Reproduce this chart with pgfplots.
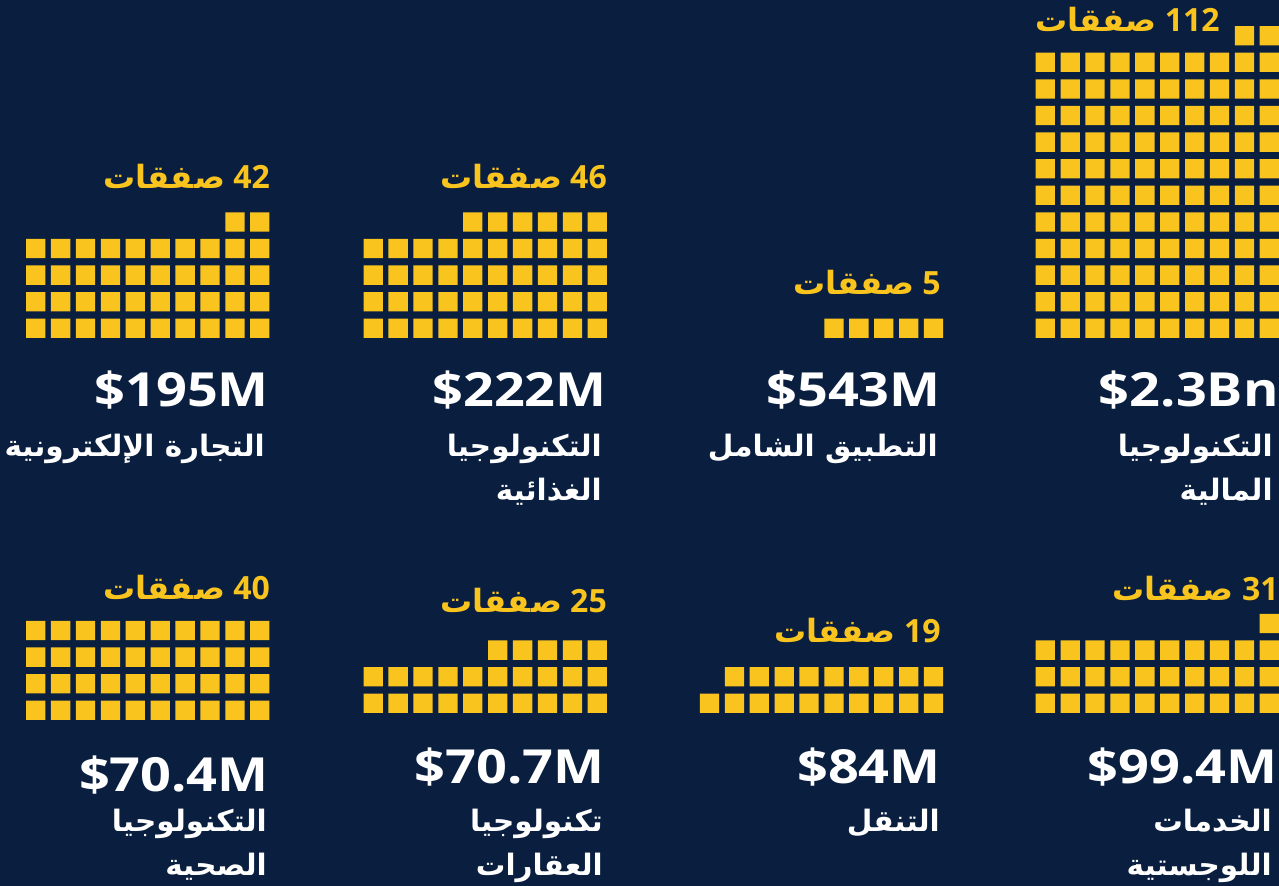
\documentclass[border=0pt]{standalone}
\usepackage{pgfplots}
\pgfplotsset{compat=1.18}
\usepackage{pgfplotstable}
\usepackage{fontspec}
\setmainfont{Open Sans}
\newfontfamily\arabicfont[Script=Arabic]{DejaVu Sans}
\newfontfamily\valfont[FakeStretch=1.15]{Open Sans}
\TeXXeTstate=1
\definecolor{bg}{HTML}{0A1F40}
\definecolor{yel}{HTML}{F9C41E}

\pgfdeclareplotmark{rsq}{%
  \pgfsetcornersarced{\pgfqpoint{2.2pt}{2.2pt}}%
  \pgfpathmoveto{\pgfqpoint{-9.65pt}{0pt}}%
  \pgfpathlineto{\pgfqpoint{-9.65pt}{9.65pt}}%
  \pgfpathlineto{\pgfqpoint{9.65pt}{9.65pt}}%
  \pgfpathlineto{\pgfqpoint{9.65pt}{-9.65pt}}%
  \pgfpathlineto{\pgfqpoint{-9.65pt}{-9.65pt}}%
  \pgfpathclose
  \pgfusepathqfill}

% squares of each waffle: c = column from the right, r = row from the bottom
\pgfplotstableread[row sep=\\]{
c r\\
0 0\\1 0\\2 0\\3 0\\4 0\\5 0\\6 0\\7 0\\8 0\\9 0\\
0 1\\1 1\\2 1\\3 1\\4 1\\5 1\\6 1\\7 1\\8 1\\9 1\\
0 2\\1 2\\2 2\\3 2\\4 2\\5 2\\6 2\\7 2\\8 2\\9 2\\
0 3\\1 3\\2 3\\3 3\\4 3\\5 3\\6 3\\7 3\\8 3\\9 3\\
0 4\\1 4\\2 4\\3 4\\4 4\\5 4\\6 4\\7 4\\8 4\\9 4\\
0 5\\1 5\\2 5\\3 5\\4 5\\5 5\\6 5\\7 5\\8 5\\9 5\\
0 6\\1 6\\2 6\\3 6\\4 6\\5 6\\6 6\\7 6\\8 6\\9 6\\
0 7\\1 7\\2 7\\3 7\\4 7\\5 7\\6 7\\7 7\\8 7\\9 7\\
0 8\\1 8\\2 8\\3 8\\4 8\\5 8\\6 8\\7 8\\8 8\\9 8\\
0 9\\1 9\\2 9\\3 9\\4 9\\5 9\\6 9\\7 9\\8 9\\9 9\\
0 10\\1 10\\2 10\\3 10\\4 10\\5 10\\6 10\\7 10\\8 10\\9 10\\
0 11\\1 11\\
}\fintech

\pgfplotstableread[row sep=\\]{
c r\\
0 0\\1 0\\2 0\\3 0\\4 0\\
}\embedded

\pgfplotstableread[row sep=\\]{
c r\\
0 0\\1 0\\2 0\\3 0\\4 0\\5 0\\6 0\\7 0\\8 0\\9 0\\
0 1\\1 1\\2 1\\3 1\\4 1\\5 1\\6 1\\7 1\\8 1\\9 1\\
0 2\\1 2\\2 2\\3 2\\4 2\\5 2\\6 2\\7 2\\8 2\\9 2\\
0 3\\1 3\\2 3\\3 3\\4 3\\5 3\\6 3\\7 3\\8 3\\9 3\\
0 4\\1 4\\2 4\\3 4\\4 4\\5 4\\
}\foodtech

\pgfplotstableread[row sep=\\]{
c r\\
0 0\\1 0\\2 0\\3 0\\4 0\\5 0\\6 0\\7 0\\8 0\\9 0\\
0 1\\1 1\\2 1\\3 1\\4 1\\5 1\\6 1\\7 1\\8 1\\9 1\\
0 2\\1 2\\2 2\\3 2\\4 2\\5 2\\6 2\\7 2\\8 2\\9 2\\
0 3\\1 3\\2 3\\3 3\\4 3\\5 3\\6 3\\7 3\\8 3\\9 3\\
0 4\\1 4\\
}\ecommerce

\pgfplotstableread[row sep=\\]{
c r\\
0 0\\1 0\\2 0\\3 0\\4 0\\5 0\\6 0\\7 0\\8 0\\9 0\\
0 1\\1 1\\2 1\\3 1\\4 1\\5 1\\6 1\\7 1\\8 1\\9 1\\
0 2\\1 2\\2 2\\3 2\\4 2\\5 2\\6 2\\7 2\\8 2\\9 2\\
0 3\\
}\logistics

\pgfplotstableread[row sep=\\]{
c r\\
0 0\\1 0\\2 0\\3 0\\4 0\\5 0\\6 0\\7 0\\8 0\\9 0\\
0 1\\1 1\\2 1\\3 1\\4 1\\5 1\\6 1\\7 1\\8 1\\
}\mobility

\pgfplotstableread[row sep=\\]{
c r\\
0 0\\1 0\\2 0\\3 0\\4 0\\5 0\\6 0\\7 0\\8 0\\9 0\\
0 1\\1 1\\2 1\\3 1\\4 1\\5 1\\6 1\\7 1\\8 1\\9 1\\
0 2\\1 2\\2 2\\3 2\\4 2\\
}\proptech

\pgfplotstableread[row sep=\\]{
c r\\
0 0\\1 0\\2 0\\3 0\\4 0\\5 0\\6 0\\7 0\\8 0\\9 0\\
0 1\\1 1\\2 1\\3 1\\4 1\\5 1\\6 1\\7 1\\8 1\\9 1\\
0 2\\1 2\\2 2\\3 2\\4 2\\5 2\\6 2\\7 2\\8 2\\9 2\\
0 3\\1 3\\2 3\\3 3\\4 3\\5 3\\6 3\\7 3\\8 3\\9 3\\
}\healthtech

\newcommand\lab[1]{{\arabicfont\bfseries\beginR صفقات\endR}\ \textbf{#1}}
\newcommand\ar[1]{{\arabicfont\bfseries\beginR #1\endR}}

\tikzset{
  lbl/.style={anchor=base east, text=yel, font=\fontsize{32}{36}\selectfont, inner sep=0pt},
  val/.style={anchor=base east, text=white, font=\valfont\fontsize{47}{50}\selectfont\bfseries, inner sep=0pt},
  cat/.style={anchor=base east, text=white, font=\fontsize{29.5}{32}\selectfont, inner sep=0pt},
}
\pgfplotsset{wf/.style={only marks, mark=rsq, color=yel, mark options={fill=yel, draw=none}}}

\begin{document}
\begin{tikzpicture}
\begin{axis}[
  x=1pt, y=1pt, y dir=reverse,
  xmin=0, xmax=1279, ymin=0, ymax=886,
  hide axis, clip=false, scale only axis,
]
\fill[bg] (axis cs:0,0) rectangle (axis cs:1279,886);

% deal counts
\node[lbl] at (axis cs:1220,31.5) {\lab{112}};
\node[lbl] at (axis cs:941,295) {\lab{5}};
\node[lbl] at (axis cs:607,189) {\lab{46}};
\node[lbl] at (axis cs:270,189) {\lab{42}};
\node[lbl] at (axis cs:1279,600.5) {\lab{31}};
\node[lbl] at (axis cs:941,642.5) {\lab{19}};
\node[lbl] at (axis cs:607,613) {\lab{25}};
\node[lbl] at (axis cs:270,599.5) {\lab{40}};

% top row
\addplot[wf] table[x expr={1279.1-9.65-24.9*\thisrow{c}}, y expr={338-9.65-26.6*\thisrow{r}}] {\fintech};
\addplot[wf] table[x expr={943.3-9.65-24.9*\thisrow{c}}, y expr={338-9.65-26.6*\thisrow{r}}] {\embedded};
\addplot[wf] table[x expr={607-9.65-24.9*\thisrow{c}}, y expr={338-9.65-26.6*\thisrow{r}}] {\foodtech};
\addplot[wf] table[x expr={269.5-9.65-24.9*\thisrow{c}}, y expr={338-9.65-26.6*\thisrow{r}}] {\ecommerce};
% bottom row
\addplot[wf] table[x expr={1279.1-9.65-24.9*\thisrow{c}}, y expr={713-9.65-26.6*\thisrow{r}}] {\logistics};
\addplot[wf] table[x expr={943.3-9.65-24.9*\thisrow{c}}, y expr={713-9.65-26.6*\thisrow{r}}] {\mobility};
\addplot[wf] table[x expr={607-9.65-24.9*\thisrow{c}}, y expr={713-9.65-26.6*\thisrow{r}}] {\proptech};
\addplot[wf] table[x expr={269.5-9.65-24.9*\thisrow{c}}, y expr={720-9.65-26.6*\thisrow{r}}] {\healthtech};

% values
\node[val] at (axis cs:1279,406.7) {\$2.3Bn};
\node[val] at (axis cs:941,406.7) {\$543M};
\node[val] at (axis cs:607,406.7) {\$222M};
\node[val] at (axis cs:269,406.7) {\$195M};
\node[val] at (axis cs:1278,783.3) {\$99.4M};
\node[val] at (axis cs:941,783.3) {\$84M};
\node[val] at (axis cs:605,783.3) {\$70.7M};
\node[val] at (axis cs:269,791.7) {\$70.4M};

% sectors
\node[cat] at (axis cs:1273,457) {\ar{التكنولوجيا}};
\node[cat] at (axis cs:1273,501) {\ar{المالية}};
\node[cat] at (axis cs:938,457) {\ar{التطبيق الشامل}};
\node[cat] at (axis cs:602,457) {\ar{التكنولوجيا}};
\node[cat] at (axis cs:602,501) {\ar{الغذائية}};
\node[cat] at (axis cs:265,457) {\ar{التجارة الإلكترونية}};
\node[cat] at (axis cs:1272,832) {\ar{الخدمات}};
\node[cat] at (axis cs:1272,876) {\ar{اللوجستية}};
\node[cat] at (axis cs:940,832) {\ar{التنقل}};
\node[cat] at (axis cs:603,832) {\ar{تكنولوجيا}};
\node[cat] at (axis cs:603,876) {\ar{العقارات}};
\node[cat] at (axis cs:267,832) {\ar{التكنولوجيا}};
\node[cat] at (axis cs:267,876) {\ar{الصحية}};
\end{axis}
\end{tikzpicture}
\end{document}
